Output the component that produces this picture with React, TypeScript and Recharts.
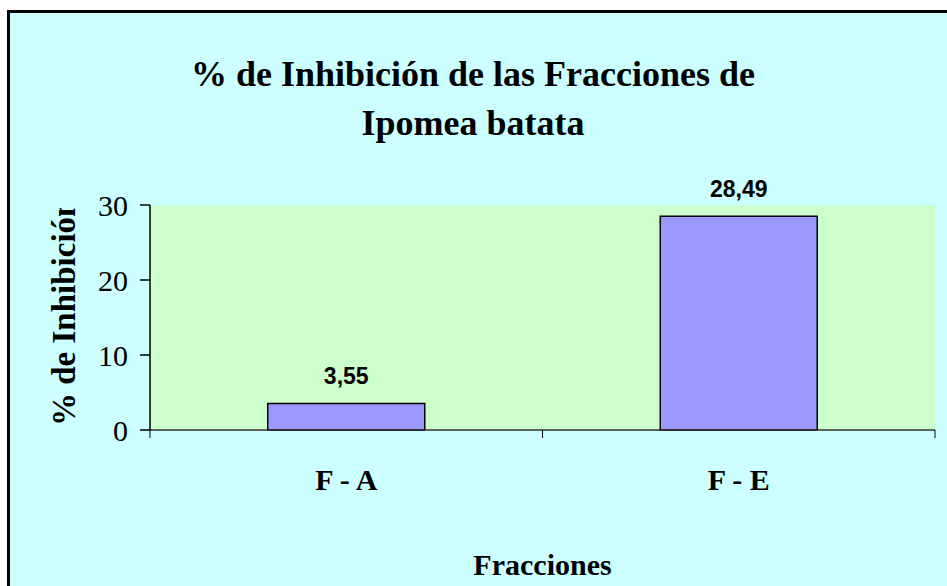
import React from 'react';
import { BarChart, Bar, XAxis, YAxis, CartesianGrid, LabelList } from 'recharts';

const categories = ['F - A', 'F - E'];
const inhibition = [3.55, 28.49];
const yTicks = [0, 10, 20, 30];
const titleLines = ['% de Inhibición de las Fracciones de', 'Ipomea batata'];
const yTitle = '% de Inhibición';
const xTitle = 'Fracciones';

const data = categories.map((c, i) => ({ name: c, value: inhibition[i] }));

const SERIF = '"Liberation Serif", "Times New Roman", serif';
const SANS = '"Liberation Sans", Arial, sans-serif';

const XTick = (props: any) => {
  const { x, y, payload, width, visibleTicksCount, index } = props;
  const band = width / (visibleTicksCount || 1);
  const left = x - band / 2;
  const right = x + band / 2;
  return (
    <g>
      {index === 0 && <line x1={left} y1={y} x2={left} y2={y + 8} stroke="#000" strokeWidth={1} />}
      <line x1={right} y1={y} x2={right} y2={y + 8} stroke="#000" strokeWidth={1} />
      <text x={x} y={y} dy={60} textAnchor="middle" fontFamily={SERIF} fontWeight="bold" fontSize={30} fill="#000">
        {payload.value}
      </text>
    </g>
  );
};

export default function App() {
  return (
    <div style={{ position: 'absolute', left: 0, top: 0, width: 947, height: 586, background: '#fff', overflow: 'hidden' }}>
      <div
        style={{
          position: 'absolute',
          left: 7,
          top: 10,
          width: 960,
          height: 600,
          background: '#CCFFFF',
          borderLeft: '3px solid #000',
          borderTop: '3px solid #000',
        }}
      />
      <div style={{ position: 'absolute', left: 0, top: 0 }}>
        <BarChart
          width={947}
          height={586}
          data={data}
          margin={{ top: 205, right: 12, bottom: 96, left: 10 }}
          barCategoryGap="30%"
        >
          <CartesianGrid fill="#CCFFCC" horizontal={false} vertical={false} stroke="none" />
          <XAxis
            dataKey="name"
            height={60}
            axisLine={{ stroke: '#333', strokeWidth: 1.5 }}
            tickLine={false}
            tickSize={0}
            tickMargin={0}
            tick={<XTick />}
            interval={0}
          />
          <YAxis
            width={140}
            domain={[0, 30]}
            ticks={yTicks}
            axisLine={{ stroke: '#000', strokeWidth: 1.5 }}
            tickLine={{ stroke: '#000', strokeWidth: 1.5 }}
            tickSize={10}
            tickMargin={12}
            tick={{ fontFamily: SERIF, fontSize: 30, fill: '#000' }}
          />
          <Bar dataKey="value" fill="#9999FF" stroke="#000" strokeWidth={1.5} isAnimationActive={false}>
            <LabelList
              dataKey="value"
              position="top"
              offset={19}
              formatter={(v: any) => Number(v).toFixed(2).replace('.', ',')}
              style={{ fontFamily: SANS, fontWeight: 'bold', fontSize: 23, fill: '#000' }}
            />
          </Bar>
        </BarChart>
      </div>
      <svg width={947} height={586} style={{ position: 'absolute', left: 0, top: 0, pointerEvents: 'none' }}>
        <defs>
          <clipPath id="yTitleClip">
            <rect x={0} y={208} width={150} height={300} />
          </clipPath>
        </defs>
        <text x={473} y={86} textAnchor="middle" fontFamily={SERIF} fontWeight="bold" fontSize={36} fill="#000">
          {titleLines[0]}
        </text>
        <text x={473} y={135} textAnchor="middle" fontFamily={SERIF} fontWeight="bold" fontSize={36} fill="#000">
          {titleLines[1]}
        </text>
        <g clipPath="url(#yTitleClip)">
          <text transform="translate(75,426) rotate(-90)" fontFamily={SERIF} fontWeight="bold" fontSize={33} fill="#000">
            {yTitle}
          </text>
        </g>
        <text x={542.5} y={575} textAnchor="middle" fontFamily={SERIF} fontWeight="bold" fontSize={30} fill="#000">
          {xTitle}
        </text>
      </svg>
    </div>
  );
}
